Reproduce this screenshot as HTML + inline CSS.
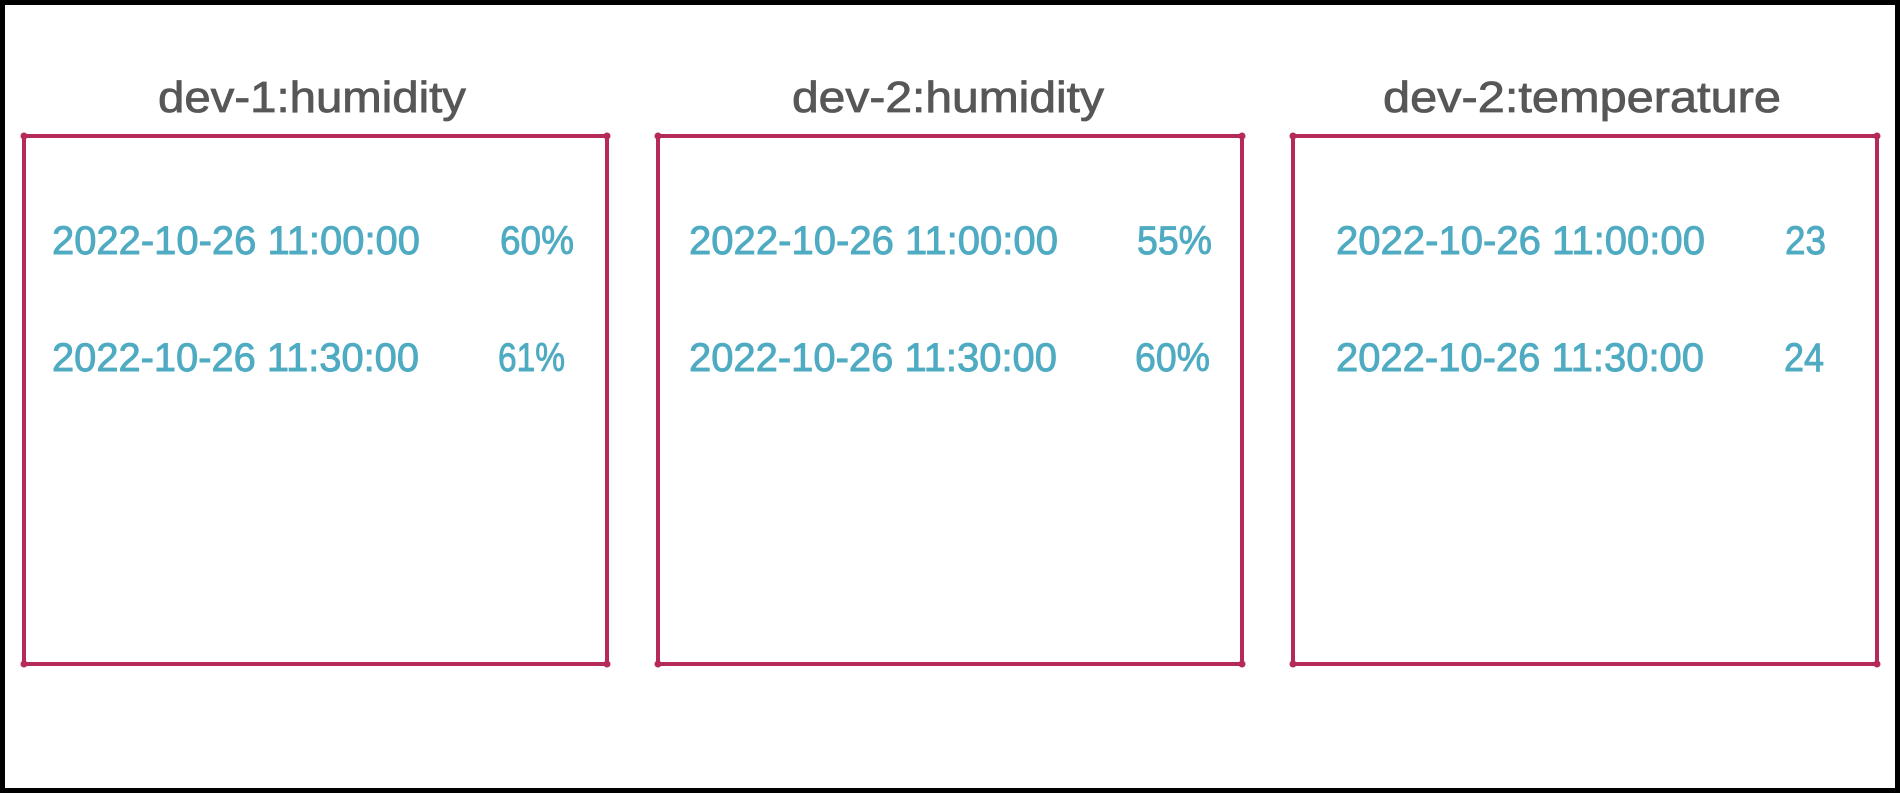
<!DOCTYPE html>
<html><head><meta charset="utf-8"><style>
html,body{margin:0;padding:0;background:#fff;}
svg{display:block;}
text{font-family:"Liberation Sans",sans-serif;}
.t{fill:#575757;font-size:44px;stroke:#575757;stroke-width:0.8;}
.d{fill:#4EABC2;font-size:40px;stroke:#4EABC2;stroke-width:0.9;}
.b{fill:none;stroke:#B52A5A;stroke-width:4;stroke-linejoin:round;}
</style></head><body>
<svg width="1900" height="793" viewBox="0 0 1900 793" xmlns="http://www.w3.org/2000/svg">
<rect x="2.5" y="2.5" width="1895" height="788" fill="#fff" stroke="#000" stroke-width="5"/>
<rect class="b" x="24" y="136" width="583" height="528" rx="3"/>
<rect class="b" x="658" y="136" width="584" height="528" rx="3"/>
<rect class="b" x="1293" y="136" width="584" height="528" rx="3"/>
<g fill="#B52A5A">
<circle cx="24" cy="136" r="3.5"/><circle cx="607" cy="136" r="3.5"/><circle cx="24" cy="664" r="3.5"/><circle cx="607" cy="664" r="3.5"/>
<circle cx="658" cy="136" r="3.5"/><circle cx="1242" cy="136" r="3.5"/><circle cx="658" cy="664" r="3.5"/><circle cx="1242" cy="664" r="3.5"/>
<circle cx="1293" cy="136" r="3.5"/><circle cx="1877" cy="136" r="3.5"/><circle cx="1293" cy="664" r="3.5"/><circle cx="1877" cy="664" r="3.5"/>
</g>
<text class="t" x="158" y="112" textLength="308" lengthAdjust="spacingAndGlyphs">dev-1:humidity</text>
<text class="t" x="792" y="112" textLength="312" lengthAdjust="spacingAndGlyphs">dev-2:humidity</text>
<text class="t" x="1383" y="112" textLength="398" lengthAdjust="spacingAndGlyphs">dev-2:temperature</text>

<text class="d" x="52" y="254" textLength="368" lengthAdjust="spacingAndGlyphs">2022-10-26 11:00:00</text>
<text class="d" x="500" y="254" textLength="74" lengthAdjust="spacingAndGlyphs">60%</text>
<text class="d" x="52" y="371" textLength="367" lengthAdjust="spacingAndGlyphs">2022-10-26 11:30:00</text>
<text class="d" x="498" y="371" textLength="67" lengthAdjust="spacingAndGlyphs">61%</text>

<text class="d" x="689" y="254" textLength="369" lengthAdjust="spacingAndGlyphs">2022-10-26 11:00:00</text>
<text class="d" x="1137" y="254" textLength="75" lengthAdjust="spacingAndGlyphs">55%</text>
<text class="d" x="689" y="371" textLength="368" lengthAdjust="spacingAndGlyphs">2022-10-26 11:30:00</text>
<text class="d" x="1135" y="371" textLength="75" lengthAdjust="spacingAndGlyphs">60%</text>

<text class="d" x="1336" y="254" textLength="369" lengthAdjust="spacingAndGlyphs">2022-10-26 11:00:00</text>
<text class="d" x="1785" y="254" textLength="41" lengthAdjust="spacingAndGlyphs">23</text>
<text class="d" x="1336" y="371" textLength="368" lengthAdjust="spacingAndGlyphs">2022-10-26 11:30:00</text>
<text class="d" x="1784" y="371" textLength="40" lengthAdjust="spacingAndGlyphs">24</text>
</svg>
</body></html>
